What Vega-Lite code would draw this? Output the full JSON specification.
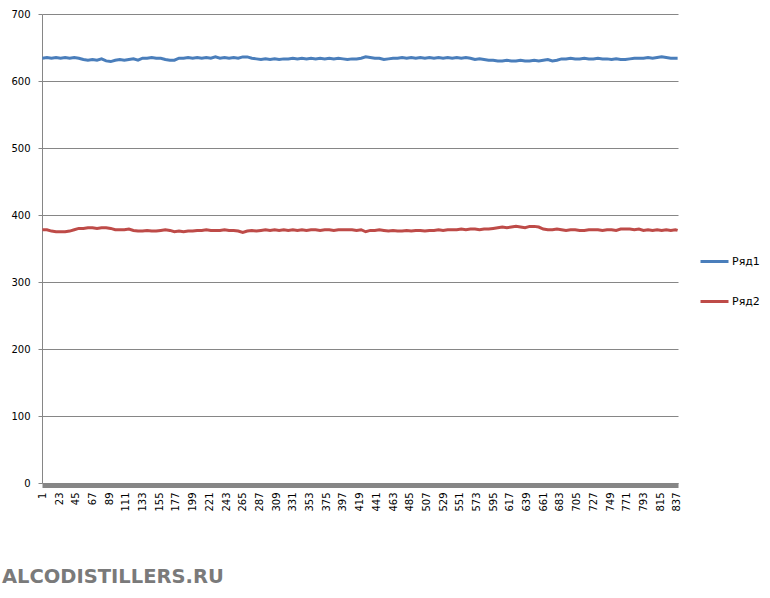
{
  "$schema": "https://vega.github.io/schema/vega-lite/v6.json",
  "width": 636,
  "height": 469,
  "autosize": {"type": "none"},
  "padding": {"left": 42, "top": 14, "right": 92, "bottom": 115},
  "background": "white",
  "title": {
    "text": "ALCODISTILLERS.RU",
    "orient": "bottom",
    "anchor": "start",
    "dx": -9,
    "offset": 57,
    "font": "DejaVu Sans",
    "fontSize": 19.5,
    "fontWeight": "bold",
    "color": "#7a7a7a"
  },
  "data": {
    "values": [
      {"x":1,"Ряд1":634,"Ряд2":378},{"x":7,"Ряд1":635,"Ряд2":378},{"x":13,"Ряд1":634,"Ряд2":376},{"x":19,"Ряд1":635,"Ряд2":375},
      {"x":25,"Ряд1":634,"Ряд2":375},{"x":31,"Ряд1":635,"Ряд2":375},{"x":37,"Ряд1":634,"Ряд2":376},{"x":43,"Ряд1":635,"Ряд2":378},
      {"x":49,"Ряд1":634,"Ряд2":380},{"x":55,"Ряд1":632,"Ряд2":380},{"x":61,"Ряд1":631,"Ряд2":381},{"x":67,"Ряд1":632,"Ряд2":381},
      {"x":73,"Ряд1":631,"Ряд2":380},{"x":79,"Ряд1":633,"Ряд2":381},{"x":85,"Ряд1":630,"Ряд2":381},{"x":91,"Ряд1":629,"Ряд2":380},
      {"x":97,"Ряд1":631,"Ряд2":378},{"x":103,"Ряд1":632,"Ряд2":378},{"x":109,"Ряд1":631,"Ряд2":378},{"x":115,"Ряд1":632,"Ряд2":379},
      {"x":121,"Ряд1":633,"Ряд2":377},{"x":127,"Ряд1":631,"Ряд2":376},{"x":133,"Ряд1":634,"Ряд2":376},{"x":139,"Ряд1":634,"Ряд2":377},
      {"x":145,"Ряд1":635,"Ряд2":376},{"x":151,"Ряд1":634,"Ряд2":376},{"x":157,"Ряд1":634,"Ряд2":377},{"x":163,"Ряд1":632,"Ряд2":378},
      {"x":169,"Ряд1":631,"Ряд2":377},{"x":175,"Ряд1":631,"Ряд2":375},{"x":181,"Ряд1":634,"Ряд2":376},{"x":187,"Ряд1":634,"Ряд2":375},
      {"x":193,"Ряд1":635,"Ряд2":376},{"x":199,"Ряд1":634,"Ряд2":376},{"x":205,"Ряд1":635,"Ряд2":377},{"x":211,"Ряд1":634,"Ряд2":377},
      {"x":217,"Ряд1":635,"Ряд2":378},{"x":223,"Ряд1":634,"Ряд2":377},{"x":229,"Ряд1":636,"Ряд2":377},{"x":235,"Ряд1":634,"Ряд2":377},
      {"x":241,"Ряд1":635,"Ряд2":378},{"x":247,"Ряд1":634,"Ряд2":377},{"x":253,"Ряд1":635,"Ряд2":377},{"x":259,"Ряд1":634,"Ряд2":376},
      {"x":265,"Ряд1":636,"Ряд2":374},{"x":271,"Ряд1":636,"Ряд2":376},{"x":277,"Ряд1":634,"Ряд2":377},{"x":283,"Ряд1":633,"Ряд2":376},
      {"x":289,"Ряд1":632,"Ряд2":377},{"x":295,"Ряд1":633,"Ряд2":378},{"x":301,"Ряд1":632,"Ряд2":377},{"x":307,"Ряд1":633,"Ряд2":378},
      {"x":313,"Ряд1":632,"Ряд2":377},{"x":319,"Ряд1":633,"Ряд2":378},{"x":325,"Ряд1":633,"Ряд2":377},{"x":331,"Ряд1":634,"Ряд2":378},
      {"x":337,"Ряд1":633,"Ряд2":377},{"x":343,"Ряд1":634,"Ряд2":378},{"x":349,"Ряд1":633,"Ряд2":377},{"x":355,"Ряд1":634,"Ряд2":378},
      {"x":361,"Ряд1":633,"Ряд2":378},{"x":367,"Ряд1":634,"Ряд2":377},{"x":373,"Ряд1":633,"Ряд2":378},{"x":379,"Ряд1":634,"Ряд2":378},
      {"x":385,"Ряд1":633,"Ряд2":377},{"x":391,"Ряд1":634,"Ряд2":378},{"x":397,"Ряд1":633,"Ряд2":378},{"x":403,"Ряд1":632,"Ряд2":378},
      {"x":409,"Ряд1":633,"Ряд2":378},{"x":415,"Ряд1":633,"Ряд2":377},{"x":421,"Ряд1":634,"Ряд2":378},{"x":427,"Ряд1":636,"Ряд2":375},
      {"x":433,"Ряд1":635,"Ряд2":377},{"x":439,"Ряд1":634,"Ряд2":377},{"x":445,"Ряд1":634,"Ряд2":378},{"x":451,"Ряд1":632,"Ряд2":377},
      {"x":457,"Ряд1":633,"Ряд2":376},{"x":463,"Ряд1":634,"Ряд2":377},{"x":469,"Ряд1":634,"Ряд2":376},{"x":475,"Ряд1":635,"Ряд2":376},
      {"x":481,"Ряд1":634,"Ряд2":377},{"x":487,"Ряд1":635,"Ряд2":376},{"x":493,"Ряд1":634,"Ряд2":377},{"x":499,"Ряд1":635,"Ряд2":377},
      {"x":505,"Ряд1":634,"Ряд2":376},{"x":511,"Ряд1":635,"Ряд2":377},{"x":517,"Ряд1":634,"Ряд2":377},{"x":523,"Ряд1":635,"Ряд2":378},
      {"x":529,"Ряд1":634,"Ряд2":377},{"x":535,"Ряд1":635,"Ряд2":378},{"x":541,"Ряд1":634,"Ряд2":378},{"x":547,"Ряд1":635,"Ряд2":378},
      {"x":553,"Ряд1":634,"Ряд2":379},{"x":559,"Ряд1":635,"Ряд2":378},{"x":565,"Ряд1":634,"Ряд2":379},{"x":571,"Ряд1":632,"Ряд2":379},
      {"x":577,"Ряд1":633,"Ряд2":378},{"x":583,"Ряд1":632,"Ряд2":379},{"x":589,"Ряд1":631,"Ряд2":379},{"x":595,"Ряд1":631,"Ряд2":380},
      {"x":601,"Ряд1":630,"Ряд2":381},{"x":607,"Ряд1":630,"Ряд2":382},{"x":613,"Ряд1":631,"Ряд2":381},{"x":619,"Ряд1":630,"Ряд2":382},
      {"x":625,"Ряд1":630,"Ряд2":383},{"x":631,"Ряд1":631,"Ряд2":382},{"x":637,"Ряд1":630,"Ряд2":381},{"x":643,"Ряд1":630,"Ряд2":383},
      {"x":649,"Ряд1":631,"Ряд2":383},{"x":655,"Ряд1":630,"Ряд2":382},{"x":661,"Ряд1":631,"Ряд2":379},{"x":667,"Ряд1":632,"Ряд2":378},
      {"x":673,"Ряд1":630,"Ряд2":378},{"x":679,"Ряд1":631,"Ряд2":379},{"x":685,"Ряд1":633,"Ряд2":378},{"x":691,"Ряд1":633,"Ряд2":377},
      {"x":697,"Ряд1":634,"Ряд2":378},{"x":703,"Ряд1":633,"Ряд2":378},{"x":709,"Ряд1":633,"Ряд2":377},{"x":715,"Ряд1":634,"Ряд2":377},
      {"x":721,"Ряд1":633,"Ряд2":378},{"x":727,"Ряд1":633,"Ряд2":378},{"x":733,"Ряд1":634,"Ряд2":378},{"x":739,"Ряд1":633,"Ряд2":377},
      {"x":745,"Ряд1":633,"Ряд2":378},{"x":751,"Ряд1":632,"Ряд2":378},{"x":757,"Ряд1":633,"Ряд2":377},{"x":763,"Ряд1":632,"Ряд2":379},
      {"x":769,"Ряд1":632,"Ряд2":379},{"x":775,"Ряд1":633,"Ряд2":379},{"x":781,"Ряд1":634,"Ряд2":378},{"x":787,"Ряд1":634,"Ряд2":379},
      {"x":793,"Ряд1":634,"Ряд2":377},{"x":799,"Ряд1":635,"Ряд2":378},{"x":805,"Ряд1":634,"Ряд2":377},{"x":811,"Ряд1":635,"Ряд2":378},
      {"x":817,"Ряд1":636,"Ряд2":377},{"x":823,"Ряд1":635,"Ряд2":378},{"x":829,"Ряд1":634,"Ряд2":377},{"x":835,"Ряд1":634,"Ряд2":378},
      {"x":838,"Ряд1":634,"Ряд2":377}
    ]
  },
  "transform": [{"fold": ["Ряд1", "Ряд2"], "as": ["series", "value"]}],
  "mark": {"type": "line", "strokeWidth": 3, "interpolate": "linear"},
  "encoding": {
    "x": {
      "field": "x",
      "type": "quantitative",
      "scale": {"domain": [0.5, 838.5], "nice": false, "zero": false},
      "axis": {
        "title": null,
        "values": [1,23,45,67,89,111,133,155,177,199,221,243,265,287,309,331,353,375,397,419,441,463,485,507,529,551,573,595,617,639,661,683,705,727,749,771,793,815,837],
        "labelAngle": 270,
        "labelAlign": "right",
        "labelBaseline": "middle",
        "labelFont": "DejaVu Sans",
        "labelFontSize": 10,
        "labelColor": "#000000",
        "labelPadding": 7,
        "labelOverlap": false,
        "ticks": false,
        "grid": false,
        "domainColor": "#868686",
        "domainWidth": 5,
        "offset": 2
      }
    },
    "y": {
      "field": "value",
      "type": "quantitative",
      "scale": {"domain": [0, 700], "nice": false},
      "axis": {
        "title": null,
        "values": [0,100,200,300,400,500,600,700],
        "labelFont": "DejaVu Sans",
        "labelFontSize": 10,
        "labelColor": "#000000",
        "labelPadding": 8,
        "tickSize": 4,
        "tickColor": "#868686",
        "domainColor": "#868686",
        "grid": true,
        "gridColor": "#868686",
        "gridOpacity": 1
      }
    },
    "color": {
      "field": "series",
      "type": "nominal",
      "scale": {"domain": ["Ряд1", "Ряд2"], "range": ["#4A7EBB", "#BE4B48"]},
      "legend": {
        "title": null,
        "orient": "none",
        "legendX": 657,
        "legendY": 232,
        "symbolType": "stroke",
        "symbolSize": 784,
        "symbolStrokeWidth": 3,
        "labelFont": "DejaVu Sans",
        "labelFontSize": 11,
        "labelColor": "#000000",
        "labelOffset": 2,
        "rowPadding": 18,
        "padding": 0
      }
    }
  },
  "config": {"view": {"stroke": null}}
}
